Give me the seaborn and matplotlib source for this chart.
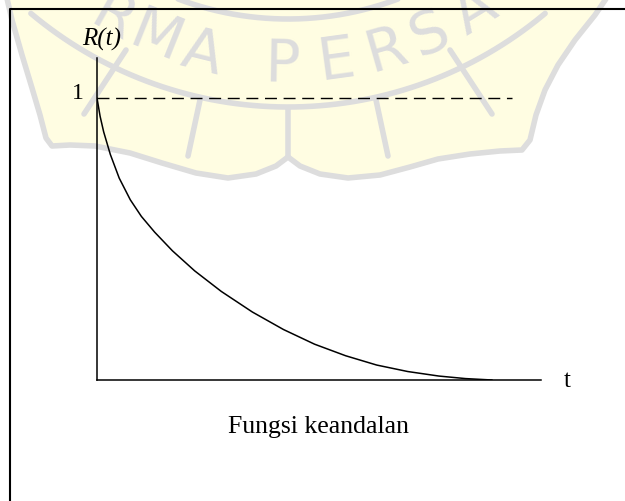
import numpy as np
import matplotlib
matplotlib.use("Agg")
import matplotlib.pyplot as plt
import seaborn as sns
from matplotlib.patches import Polygon

# Reliability function R(t)
t_values = [0.00, 0.07, 0.15, 0.30, 0.50, 0.75, 1.00, 1.30, 1.70, 2.20,
            2.80, 3.50, 4.20, 4.90, 5.60, 6.30, 7.00, 7.70, 8.30, 8.90]
r_values = [1.000, 0.935, 0.880, 0.800, 0.716, 0.639, 0.580, 0.524, 0.458, 0.387,
            0.314, 0.241, 0.179, 0.127, 0.086, 0.053, 0.030, 0.014, 0.005, 0.000]

# Reference level R = 1 (dashed)
ref_t = [0.0, 9.35]
ref_r = [1.0, 1.0]

y_tick_label = "1"
y_label = "R(t)"
x_label = "t"
caption = "Fungsi keandalan"
seal_letters = ["R", "M", "A", "P", "E", "R", "S", "A"]
seal_angles = [-29.3, -21.8, -14.0, -1.0, 7.8, 16.0, 23.3, 31.5]

sns.set_theme(style="white")
plt.rcParams["font.family"] = ["Liberation Serif", "DejaVu Serif"]
plt.rcParams["text.color"] = "black"

W, H = 625, 501
fig = plt.figure(figsize=(W / 100, H / 100), dpi=100)
fig.patch.set_facecolor("white")

# Background layer in pixel coordinates (y pointing down)
bg = fig.add_axes([0, 0, 1, 1])
bg.set_xlim(0, W)
bg.set_ylim(H, 0)
bg.axis("off")

# --- faint seal in the background ---
YELLOW = "#FFFDE2"
GREY = "#DDDDDD"
outline = [(5, -10), (12, 20), (22, 55), (32, 88), (40, 115), (46, 138), (52, 146),
           (70, 145), (95, 146), (130, 153), (162, 163), (196, 173), (228, 178),
           (256, 174), (276, 166), (288, 157), (300, 166), (320, 174), (348, 178),
           (380, 175), (410, 167), (438, 159), (470, 154), (500, 151), (522, 150),
           (530, 140), (536, 115), (545, 90), (558, 65), (575, 40), (595, 15), (612, -10)]
bg.add_patch(Polygon(outline + [(612, -30), (5, -30)], closed=True,
                     facecolor=YELLOW, edgecolor="none", zorder=0))
ox, oy = zip(*outline)
bg.plot(ox, oy, color=GREY, lw=4.0, solid_capstyle="round", zorder=1)

cx, cy = 288, -293
for rad, span in [(400, 40), (312, 30)]:
    ph = np.radians(np.linspace(-span, span, 200))
    bg.plot(cx + rad * np.sin(ph), cy + rad * np.cos(ph), color=GREY, lw=4.0, zorder=1)

for ch, ang in zip(seal_letters, seal_angles):
    ph = np.radians(ang)
    bg.text(cx + 357 * np.sin(ph), cy + 357 * np.cos(ph), ch, rotation=ang,
            rotation_mode="anchor", ha="center", va="center", fontsize=42,
            color=GREY, family="DejaVu Sans", zorder=1)

for (xa, ya), (xb, yb) in [((288, 108), (288, 157)), ((200, 100), (188, 156)),
                           ((376, 100), (388, 156)), ((450, 50), (492, 114)),
                           ((126, 50), (84, 114))]:
    bg.plot([xa, xb], [ya, yb], color=GREY, lw=4.0, solid_capstyle="round", zorder=1)

# Outer frame
bg.plot([10, 10, W + 20], [H + 20, 8.5, 8.5], color="black", lw=1.5, zorder=3)

# --- chart axes ---
x0, x1 = 97, 541
y0, y1 = 380, 58
ax = fig.add_axes([x0 / W, 1 - y0 / H, (x1 - x0) / W, (y0 - y1) / H])
ax.patch.set_alpha(0)
ax.set_xlim(0, 10)
ax.set_ylim(0, (y0 - y1) / 282)

sns.lineplot(x=t_values, y=r_values, ax=ax, color="black", linewidth=1.1,
             estimator=None, sort=False)
sns.lineplot(x=ref_t, y=ref_r, ax=ax, color="black", linewidth=1.0, estimator=None)
ax.lines[-1].set_dashes([8.6, 4.8])

sns.despine(ax=ax)
for side in ["left", "bottom"]:
    ax.spines[side].set_color("black")
    ax.spines[side].set_linewidth(1.1)
ax.set_xticks([])
ax.set_yticks([])
ax.set_xlabel("")
ax.set_ylabel("")

bg.text(102, 39, y_label, ha="center", va="center", fontsize=18, style="italic",
        color="black", zorder=4)
bg.text(78, 93, y_tick_label, ha="center", va="center", fontsize=17, color="black", zorder=4)
bg.text(567, 381, x_label, ha="center", va="center", fontsize=18, color="black", zorder=4)
bg.text(319, 427, caption, ha="center", va="center", fontsize=18.5, color="black", zorder=4)

fig.savefig("out.png", dpi=100, facecolor="white")
